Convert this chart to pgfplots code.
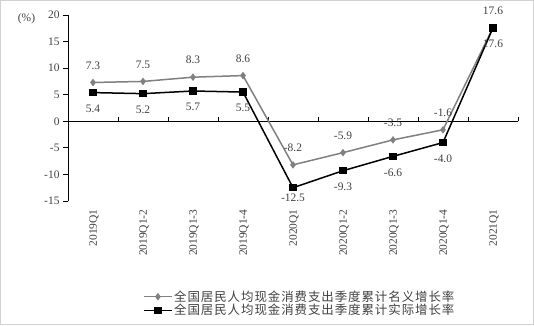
\documentclass[border=0pt]{standalone}
\usepackage{fontspec}
\setmainfont{Liberation Serif}
\newfontfamily\cjk[LetterSpace=7.5]{Noto Sans CJK SC}
\usepackage{pgfplots}
\pgfplotsset{compat=1.18}
\definecolor{nomgray}{HTML}{808080}
\definecolor{txt}{HTML}{404040}
\begin{document}
\begin{tikzpicture}[x=1bp,y=1bp]
\useasboundingbox (0,0) rectangle (534,325);
\draw[color=black!18, line width=1bp] (0.5,0.5) rectangle (533.5,324.5);
\begin{axis}[
  at={(68bp,124bp)}, anchor=south west,
  scale only axis, width=450bp, height=186bp,
  xmin=-0.5, xmax=8.5, ymin=-15, ymax=20,
  ytick={-15,-10,...,20},
  xtick={0,...,8},
  xticklabels={2019Q1,2019Q1-2,2019Q1-3,2019Q1-4,2020Q1,2020Q1-2,2020Q1-3,2020Q1-4,2021Q1},
  /pgf/number format/assume math mode=true,
  axis y line*=left, axis x line*=bottom,
  x axis line style={draw=none},
  axis line style={line width=0.75bp, -},
  xtick style={draw=none},
  ytick style={line width=0.75bp, black},
  tick align=outside, major tick length=5bp,
  x tick label style={rotate=90, anchor=east, font=\fontsize{11.5}{13}\selectfont, text=txt, yshift=-1bp},
  y tick label style={font=\fontsize{11.5}{13}\selectfont, text=txt},
  clip=false,
  legend style={at={(0.160,-0.551)}, anchor=west, draw=none, fill=none,
    font=\cjk\fontsize{12.5}{12.5}\selectfont, text=txt, row sep=-1.5bp,
    nodes={inner sep=1.5bp}},
  legend cell align=left,
  legend image code/.code={\draw[mark repeat=2,mark phase=2,#1] plot coordinates {(0bp,0bp) (14bp,0bp) (28bp,0bp)};},
  nodes near coords align={center},
]
\draw[black, line width=0.75bp] (axis cs:-0.5,0) -- (axis cs:8.5,0);
\draw[black, line width=0.75bp] (axis cs:0.5,0) -- ([yshift=4bp]axis cs:0.5,0);
\draw[black, line width=0.75bp] (axis cs:1.5,0) -- ([yshift=4bp]axis cs:1.5,0);
\draw[black, line width=0.75bp] (axis cs:2.5,0) -- ([yshift=4bp]axis cs:2.5,0);
\draw[black, line width=0.75bp] (axis cs:3.5,0) -- ([yshift=4bp]axis cs:3.5,0);
\draw[black, line width=0.75bp] (axis cs:4.5,0) -- ([yshift=4bp]axis cs:4.5,0);
\draw[black, line width=0.75bp] (axis cs:5.5,0) -- ([yshift=4bp]axis cs:5.5,0);
\draw[black, line width=0.75bp] (axis cs:6.5,0) -- ([yshift=4bp]axis cs:6.5,0);
\draw[black, line width=0.75bp] (axis cs:7.5,0) -- ([yshift=4bp]axis cs:7.5,0);
\draw[black, line width=0.75bp] (axis cs:8.5,0) -- ([yshift=4bp]axis cs:8.5,0);

\addplot[color=nomgray, line width=1.5bp, mark=diamond*, mark size=2.6bp, mark options={fill=nomgray, solid}]
  coordinates {(0,7.3) (1,7.5) (2,8.3) (3,8.6) (4,-8.2) (5,-5.9) (6,-3.5) (7,-1.6) (8,17.6)};
\addlegendentry{全国居民人均现金消费支出季度累计名义增长率}
\addplot[color=black, line width=1.5bp, mark=square*, mark size=3bp, mark options={fill=black, solid}]
  coordinates {(0,5.4) (1,5.2) (2,5.7) (3,5.5) (4,-12.5) (5,-9.3) (6,-6.6) (7,-4.0) (8,17.6)};
\addlegendentry{全国居民人均现金消费支出季度累计实际增长率}

% labels
\pgfplotsset{every node near coord/.append style={font=\fontsize{11.5}{13}\selectfont, text=txt}}
\addplot[forget plot, draw=none, mark=none, nodes near coords, point meta=explicit symbolic,
  every node near coord/.append style={yshift=17bp}]
  coordinates {(0,7.3)[7.3] (1,7.5)[7.5] (2,8.3)[8.3] (3,8.6)[8.6] (4,-8.2)[-8.2] (5,-5.9)[-5.9] (6,-3.5)[-3.5] (7,-1.6)[-1.6] (8,17.6)[17.6]};
\addplot[forget plot, draw=none, mark=none, nodes near coords, point meta=explicit symbolic,
  every node near coord/.append style={yshift=-16bp}]
  coordinates {(8,17.6)[17.6] (0,5.4)[5.4] (1,5.2)[5.2] (2,5.7)[5.7] (3,5.5)[5.5] (5,-9.3)[-9.3] (6,-6.6)[-6.6] (7,-4.0)[-4.0]};
\addplot[forget plot, draw=none, mark=none, nodes near coords, point meta=explicit symbolic,
  every node near coord/.append style={yshift=-10bp}]
  coordinates {(4,-12.5)[-12.5]};
\end{axis}
\node[text=txt, font=\fontsize{11.5}{13}\selectfont] at (26.5,306) {(\%)};
\end{tikzpicture}
\end{document}
